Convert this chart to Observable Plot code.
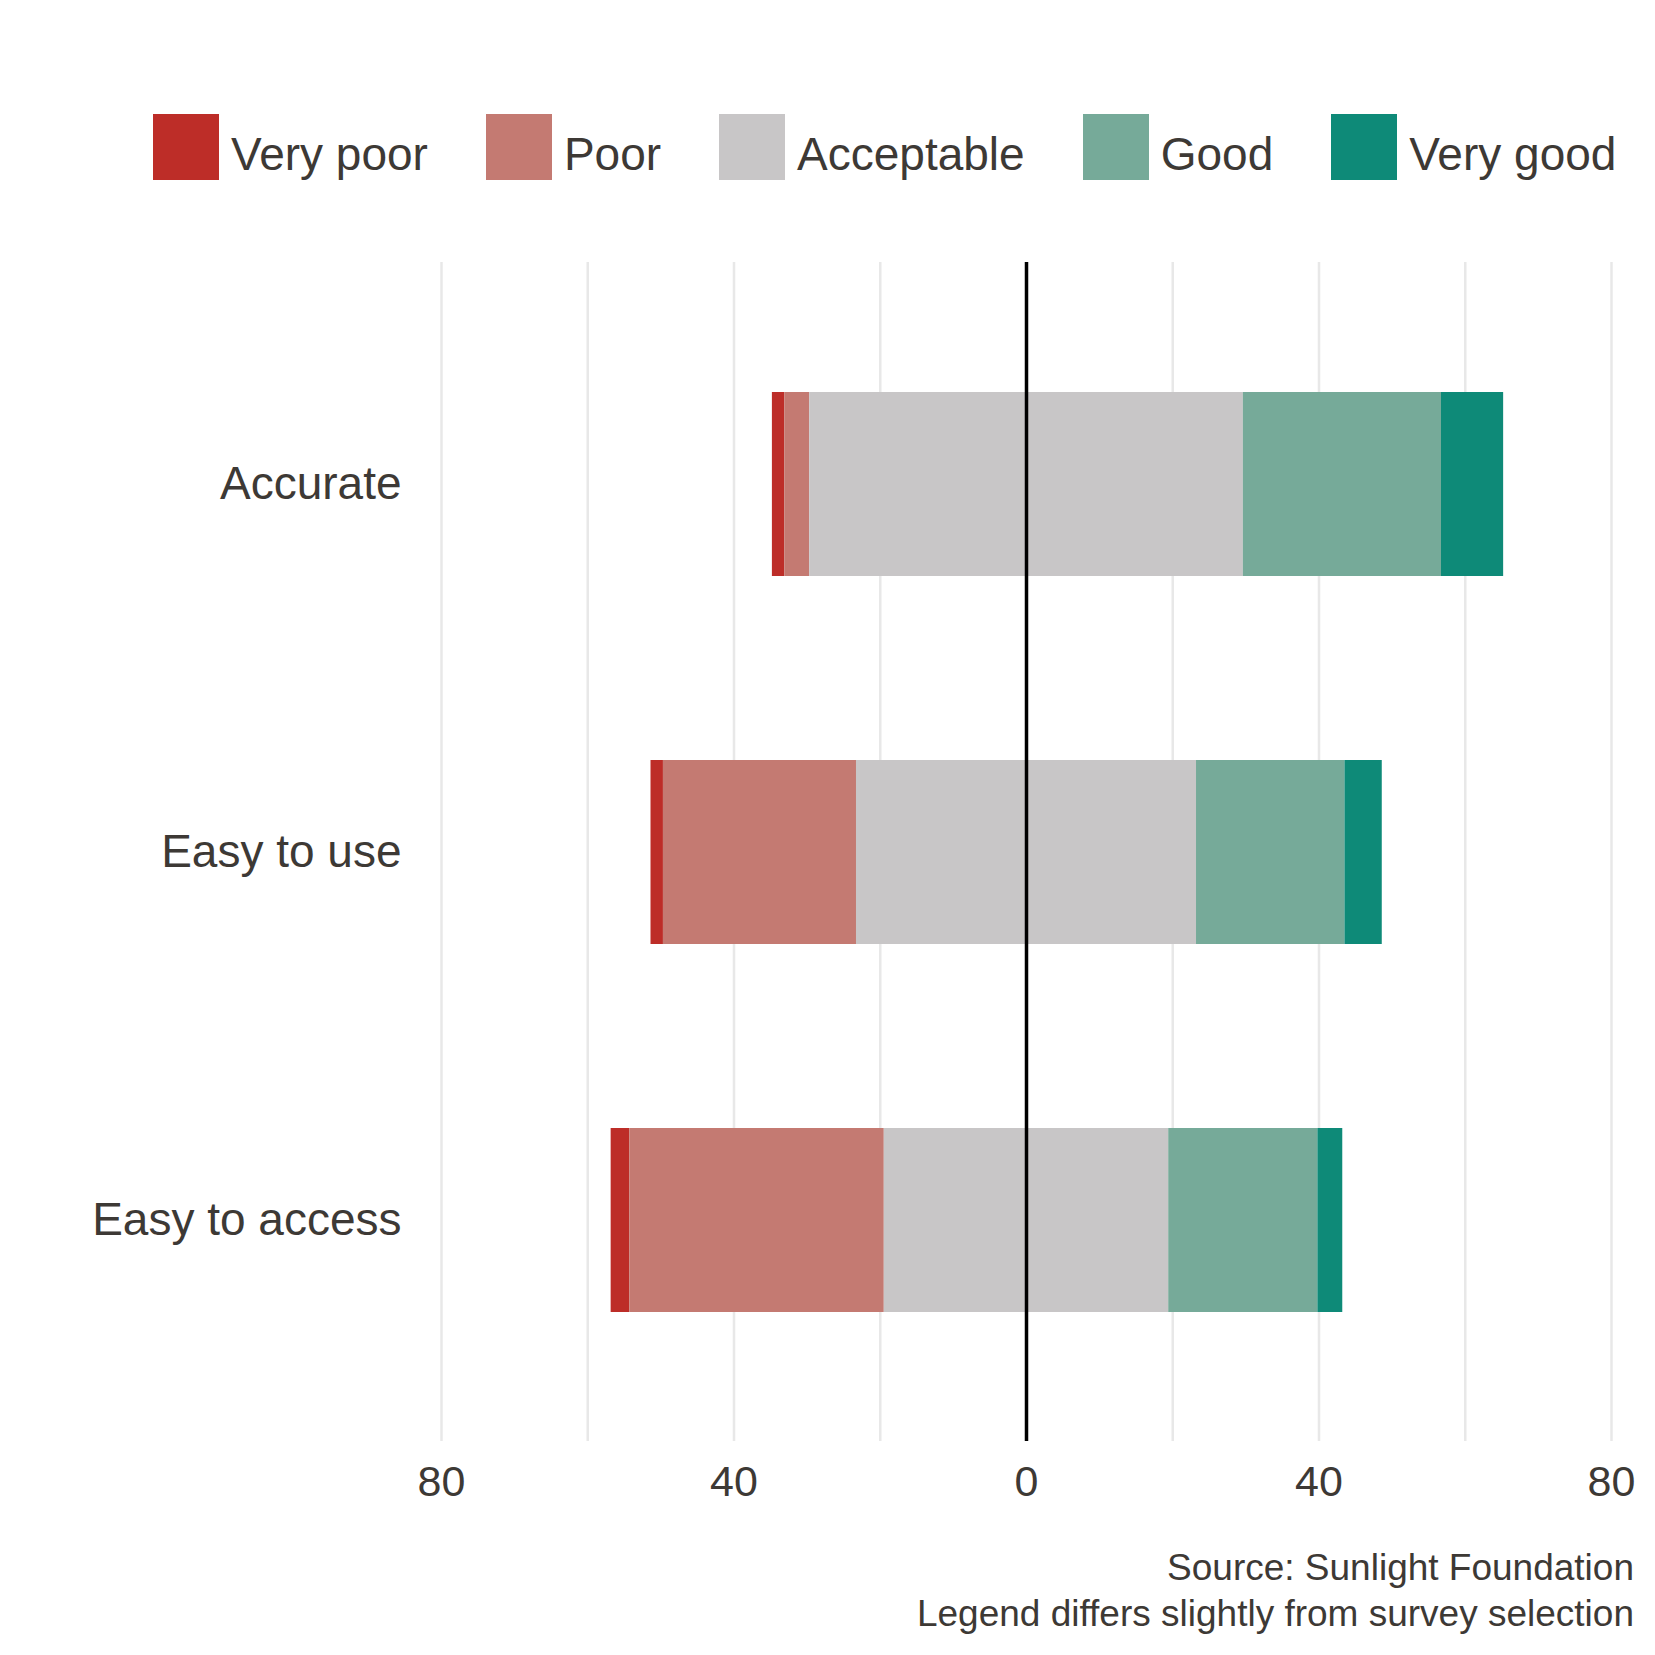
<!DOCTYPE html>
<html>
<head>
<meta charset="utf-8">
<script src="https://cdn.jsdelivr.net/npm/d3@7"></script>
<script src="https://cdn.jsdelivr.net/npm/@observablehq/plot@0.6"></script>
<style>
  html, body { margin: 0; padding: 0; background: #fff; }
  body { width: 1655px; font-family: "Liberation Sans", Arial, Helvetica, sans-serif; color: #3d3935; }
  #legend { height: 230px; box-sizing: border-box; padding-top: 114px; padding-left: 153px; display: flex; gap: 58px; }
  .item { display: flex; align-items: center; height: 66px; }
  .sw { width: 66px; height: 66px; margin-right: 12px; }
  .lab { font-size: 46px; line-height: 66px; white-space: nowrap; position: relative; top: 7px; }
  #caption { text-align: right; padding-right: 21px; margin-top: 15px; font-size: 37px; line-height: 46px; }
  #chart svg { display: block; }
</style>
</head>
<body>
<div id="legend"></div>
<div id="chart"></div>
<div id="caption">Source: Sunlight Foundation<br>Legend differs slightly from survey selection</div>
<script>
const categories = ["Accurate", "Easy to use", "Easy to access"];
const levels = ["Very poor", "Poor", "Acceptable", "Good", "Very good"];
const colors = ["#bd2d28", "#c47a72", "#c8c6c7", "#76aa99", "#0e8a78"];
const veryPoor = [1.7, 1.7, 2.55];
const poor = [3.4, 26.4, 34.8];
const acceptable = [59.3, 46.5, 38.9];
const good = [27.1, 20.3, 20.4];
const veryGood = [8.5, 5.1, 3.4];
const gridTicks = [-80, -60, -40, -20, 20, 40, 60, 80];
const labelTicks = [-80, -40, 0, 40, 80];

const series = [veryPoor, poor, acceptable, good, veryGood];
const segments = [];
categories.forEach((cat, i) => {
  let pos = -(veryPoor[i] + poor[i] + acceptable[i] / 2);
  levels.forEach((lev, k) => {
    const v = series[k][i];
    segments.push({category: cat, level: lev, x1: pos, x2: pos + v});
    pos += v;
  });
});

const legend = document.getElementById("legend");
levels.forEach((lev, k) => {
  const it = document.createElement("div");
  it.className = "item";
  it.innerHTML = `<div class="sw" style="background:${colors[k]}"></div><div class="lab">${lev}</div>`;
  legend.appendChild(it);
});

const chart = Plot.plot({
  width: 1655,
  height: 1300,
  marginTop: 32,
  marginBottom: 89,
  marginLeft: 441,
  marginRight: 44,
  style: {fontFamily: "Liberation Sans, Arial, Helvetica, sans-serif", color: "#3d3935", background: "white"},
  x: {domain: [-80, 80]},
  y: {domain: categories, paddingInner: 0.5, paddingOuter: 0.35},
  color: {domain: levels, range: colors},
  marks: [
    Plot.ruleX(gridTicks, {stroke: "#e8e8e8", strokeWidth: 2.5}),
    Plot.barX(segments, {x1: "x1", x2: "x2", y: "category", fill: "level"}),
    Plot.ruleX([0], {stroke: "black", strokeWidth: 3.5}),
    Plot.axisX({ticks: labelTicks, tickFormat: d => Math.abs(d), tickSize: 0, tickPadding: 24, fontSize: 43, label: null}),
    Plot.axisY({tickSize: 0, tickPadding: 40, fontSize: 46, label: null})
  ]
});
document.getElementById("chart").appendChild(chart);
</script>
</body>
</html>
